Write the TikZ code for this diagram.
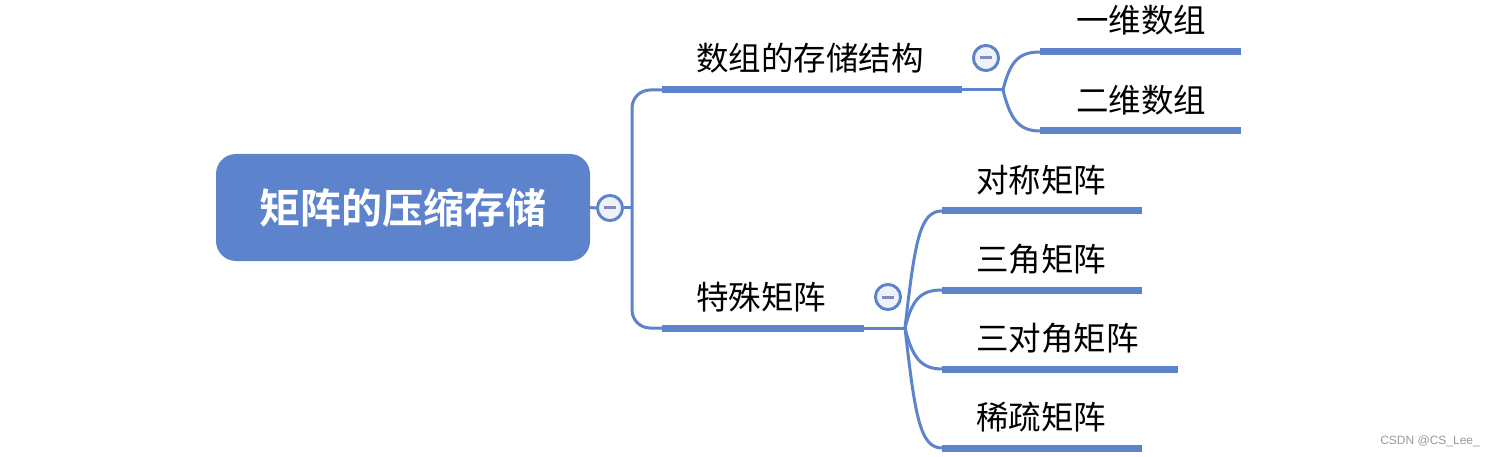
\documentclass[tikz,border=0pt]{standalone}
\usepackage{fontspec}
\newfontfamily\cjk{Noto Sans CJK SC}
\newfontfamily\cjkb{Noto Sans CJK SC Bold}
\setsansfont{Liberation Sans}
\definecolor{mblue}{RGB}{94,131,205}
\definecolor{mgrey}{RGB}{128,140,190}
\definecolor{cfill}{RGB}{240,242,250}
\tikzset{
  thinline/.style={draw=mblue, line width=3pt},
  uline/.style={draw=mblue, line width=7pt},
  lbl/.style={anchor=west, inner sep=0pt, font=\cjk\fontsize{32.5}{32.5}\selectfont},
  collapse/.style={circle, draw=mblue, fill=cfill, line width=2.8pt, minimum size=25pt, inner sep=0pt},
}
\begin{document}
\begin{tikzpicture}[x=1pt,y=-1pt]
\useasboundingbox (0,0) rectangle (1494,457);
% root
\node[fill=mblue, rounded corners=20pt, minimum width=374pt, minimum height=107pt, inner sep=0pt,
      text=white, font=\cjkb\fontsize{41}{41}\selectfont] (root) at (403,207.5) {矩阵的压缩存储};
% coordinates
\coordinate (t0) at (632,208);
\coordinate (a1) at (662,90);  \coordinate (a2) at (962,90);
\coordinate (b1) at (662,328); \coordinate (b2) at (864,328);
\coordinate (ja) at (1003,90);
\coordinate (jb) at (905,328);
\coordinate (u1s) at (1040,52);  \coordinate (u1e) at (1241,52);
\coordinate (u2s) at (1040,131); \coordinate (u2e) at (1241,131);
\coordinate (v1s) at (942,211); \coordinate (v1e) at (1142,211);
\coordinate (v2s) at (942,290); \coordinate (v2e) at (1142,290);
\coordinate (v3s) at (942,369); \coordinate (v3e) at (1178,369);
\coordinate (v4s) at (942,448); \coordinate (v4e) at (1142,448);
% collapse circles
\node[collapse] (c0) at (610,208) {};
\node[collapse] (c1) at (986,58) {};
\node[collapse] (c2) at (888,297) {};
% connectors
\draw[thinline] (root.east) -- (c0.west);
\draw[thinline] (c0.east) -- (t0);
\draw[thinline, rounded corners=18pt] (a1) -| (t0);
\draw[thinline, rounded corners=18pt] (b1) -| (t0);
\draw[thinline] (a2) -- (ja);
\draw[thinline] (b2) -- (jb);
\draw[thinline] (ja) .. controls (1010,62) and (1018,52) .. (u1s);
\draw[thinline] (ja) .. controls (1010,118) and (1018,131) .. (u2s);
\draw[thinline] (jb) .. controls (915,240) and (920,211) .. (v1s);
\draw[thinline] (jb) .. controls (912,300) and (920,290) .. (v2s);
\draw[thinline] (jb) .. controls (912,356) and (920,369) .. (v3s);
\draw[thinline] (jb) .. controls (915,416) and (920,448) .. (v4s);
% underlines
\draw[uline] (a1) -- (a2);
\draw[uline] (b1) -- (b2);
\draw[uline] (u1s) -- (u1e);
\draw[uline] (u2s) -- (u2e);
\draw[uline] (v1s) -- (v1e);
\draw[uline] (v2s) -- (v2e);
\draw[uline] (v3s) -- (v3e);
\draw[uline] (v4s) -- (v4e);
% redraw circles on top
\foreach \c in {c0,c1,c2}{
  \node[collapse] at (\c) {};
  \draw[mgrey, line width=3pt] ([xshift=-6pt]\c.center) -- ([xshift=6pt]\c.center);}
% labels
\node[lbl] (la) at (696,58) {数组的存储结构};
\node[lbl] (lb) at (696,297) {特殊矩阵};
\node[lbl] (l1) at (1076,20) {一维数组};
\node[lbl] (l2) at (1076,100) {二维数组};
\node[lbl] (m1) at (976,180) {对称矩阵};
\node[lbl] (m2) at (976,259) {三角矩阵};
\node[lbl] (m3) at (976,338) {三对角矩阵};
\node[lbl] (m4) at (976,417) {稀疏矩阵};
\node[anchor=east, inner sep=0pt, text=gray!80, font=\sffamily\fontsize{12}{12}\selectfont] (wm) at (1480,441) {CSDN @CS\_Lee\_};
\end{tikzpicture}
\end{document}
